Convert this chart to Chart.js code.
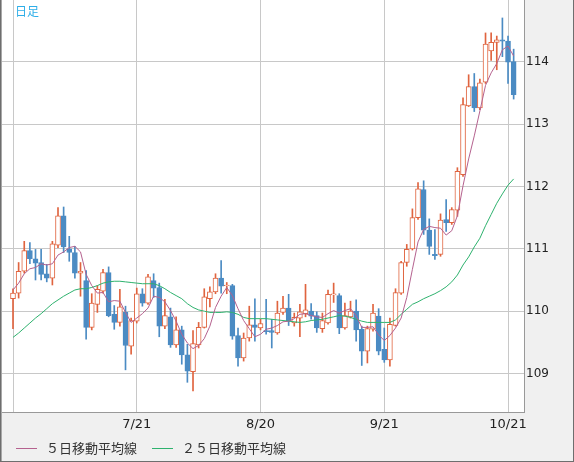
<!DOCTYPE html>
<html>
<head>
<meta charset="utf-8">
<script src="https://cdn.jsdelivr.net/npm/chart.js@4/dist/chart.umd.min.js"></script>
<style>
html,body{margin:0;padding:0;background:#f0f0f0;}
#c{display:block;}
</style>
</head>
<body>
<canvas id="c" width="574" height="462"></canvas>
<script>
// ---- data (USD/JPY daily, 6/21 .. 10/22) ----
const openP = [110.20,110.29,110.64,110.97,110.84,110.78,110.60,110.53,111.06,111.53,
111.00,110.94,110.61,110.49,109.74,110.11,110.32,110.62,109.95,109.82,
109.98,109.44,109.84,110.28,110.13,110.49,110.38,109.76,109.91,109.46,
109.70,109.30,109.03,109.46,109.74,110.20,110.31,110.53,110.41,110.41,
109.61,109.25,109.57,109.78,109.73,109.69,109.69,109.65,109.98,110.05,
109.81,109.89,109.96,110.00,109.93,109.72,109.81,110.26,110.25,109.73,
109.91,110.00,109.71,109.36,109.71,109.92,109.39,109.22,109.77,110.29,
110.78,111.00,111.50,111.95,111.30,110.91,110.91,111.47,111.42,111.62,
112.19,113.29,113.60,113.26,113.67,114.17,114.31,114.35,114.33,114.00];
const highP = [110.36,110.78,111.12,111.10,110.99,110.99,110.75,111.12,111.66,111.67,
111.20,111.04,110.78,110.65,110.28,110.41,110.67,110.71,110.09,110.35,
110.08,109.89,110.37,110.36,110.59,110.60,110.45,110.19,110.05,109.91,
109.76,109.47,109.69,109.82,110.36,110.39,110.60,110.81,110.46,110.43,
109.73,109.65,110.08,110.20,109.87,110.19,109.87,110.16,110.24,110.27,
109.97,110.11,110.43,110.12,109.99,109.97,110.34,110.45,110.28,110.13,
110.16,110.18,109.76,109.76,110.11,110.04,109.73,109.89,110.36,110.80,
111.07,111.64,112.06,112.09,111.48,111.31,111.56,111.79,111.66,112.30,
113.42,113.79,113.81,113.72,114.46,114.46,114.41,114.70,114.41,114.20];
const lowP = [109.72,110.21,110.61,110.76,110.50,110.50,110.47,110.42,111.02,110.94,
110.80,110.53,110.24,109.55,109.70,109.98,110.29,109.91,109.71,109.76,
109.06,109.31,109.81,110.08,110.11,110.22,109.59,109.72,109.42,109.42,
109.15,108.86,108.72,109.41,109.73,110.07,110.28,110.29,110.28,109.55,
109.12,109.20,109.52,109.52,109.70,109.63,109.41,109.63,109.95,109.77,
109.76,109.59,109.91,109.87,109.66,109.66,109.79,110.14,109.64,109.71,
109.89,109.52,109.13,109.17,109.68,109.30,109.18,109.12,109.76,110.27,
110.72,110.98,111.47,111.23,110.91,110.83,110.88,111.28,111.39,111.52,
112.16,113.28,113.20,113.23,113.65,114.02,113.87,114.08,113.65,113.40];
const closeP = [110.29,110.64,110.97,110.84,110.77,110.59,110.53,111.08,111.53,111.03,
110.94,110.61,110.64,109.74,110.13,110.35,110.62,109.93,109.82,110.07,
109.45,109.85,110.28,110.13,110.55,110.37,109.76,109.93,109.46,109.70,
109.30,109.04,109.48,109.74,110.23,110.31,110.53,110.40,110.42,109.60,
109.25,109.57,109.78,109.74,109.80,109.67,109.66,109.97,110.05,109.84,
109.90,109.99,110.02,109.92,109.73,109.85,110.27,110.28,109.73,109.93,
110.00,109.70,109.36,109.72,109.97,109.36,109.22,109.79,110.30,110.78,
110.99,111.50,111.96,111.30,111.04,110.89,111.46,111.42,111.63,112.24,
113.31,113.60,113.26,113.66,114.28,114.31,114.35,114.33,113.99,113.47];
const ma5 = [110.34,110.45,110.60,110.68,110.70,110.76,110.74,110.76,110.90,110.95,
111.02,111.04,110.95,110.59,110.41,110.29,110.30,110.15,110.17,110.16,
109.98,109.82,109.89,109.96,110.05,110.24,110.22,110.15,110.01,109.84,
109.63,109.49,109.40,109.45,109.56,109.76,110.06,110.24,110.38,110.25,
110.04,109.85,109.72,109.59,109.63,109.71,109.73,109.77,109.83,109.84,
109.88,109.95,109.96,109.93,109.91,109.90,109.96,110.01,109.97,110.01,
110.04,109.93,109.74,109.74,109.75,109.62,109.53,109.61,109.73,109.89,
110.22,110.67,111.11,111.31,111.36,111.34,111.33,111.22,111.29,111.53,
112.01,112.44,112.81,113.21,113.62,113.82,113.97,114.19,114.25,114.09];
const ma25 = [109.58,109.65,109.73,109.81,109.89,109.96,110.04,110.12,110.18,110.24,
110.29,110.34,110.36,110.36,110.38,110.41,110.45,110.47,110.48,110.48,
110.47,110.46,110.45,110.44,110.44,110.44,110.41,110.36,110.30,110.25,
110.20,110.12,110.06,110.02,110.00,109.98,109.98,109.98,109.99,109.98,
109.95,109.90,109.88,109.88,109.88,109.88,109.87,109.86,109.85,109.84,
109.83,109.82,109.83,109.85,109.86,109.87,109.89,109.91,109.93,109.92,
109.90,109.87,109.84,109.82,109.82,109.82,109.82,109.82,109.86,109.95,
110.03,110.11,110.15,110.20,110.24,110.28,110.33,110.39,110.47,110.58,
110.74,110.87,111.03,111.17,111.37,111.55,111.73,111.88,112.02,112.12];
const xTickIdx = [0, 22, 44, 66, 88];
const xTickLabels = ['', '7/21', '8/20', '9/21', '10/21'];
const yTicks = [109, 110, 111, 112, 113, 114];
const seriesLabels = ['５日移動平均線', '２５日移動平均線'];
const periodLabel = '日足';

// ---- styles ----
const RED = '#e0643f';
const BLUE = '#4b8bc3';
const C_MA5 = '#b5628f';
const C_MA25 = '#2eb26e';
const GRID = '#c8c8c8';

const isUp = i => closeP[i] >= openP[i];
const bodies = openP.map((o, i) => ({x: i, y: [Math.min(o, closeP[i]), Math.max(o, closeP[i])]}));
const wicks = lowP.map((l, i) => ({x: i, y: [l, highP[i]]}));

const deco = {
  id: 'deco',
  beforeDraw(chart) {
    const {ctx, chartArea: a, width, height} = chart;
    ctx.save();
    ctx.fillStyle = '#f0f0f0';
    ctx.fillRect(0, 0, width, height);
    ctx.fillStyle = '#ffffff';
    ctx.fillRect(a.left, a.top, a.right - a.left, a.bottom - a.top);
    ctx.restore();
  },
  afterDraw(chart) {
    const {ctx, width, height} = chart;
    ctx.save();
    // outer frame
    ctx.fillStyle = '#6e6e6e';
    ctx.fillRect(0, 0, 1, height);
    ctx.fillRect(width - 1, 0, 1, height);
    ctx.fillRect(0, height - 1, width, 1);
    ctx.fillStyle = '#a8a8a8';
    ctx.fillRect(1, 0, 1, height - 1);
    // period label
    ctx.font = '12px "Noto Sans CJK JP"';
    ctx.fillStyle = '#2eaee8';
    ctx.textBaseline = 'middle';
    ctx.textAlign = 'left';
    ctx.fillText(periodLabel, 15, 11);
    // legend
    const ly = 448.5;
    const items = [
      {x: 16, label: seriesLabels[0], color: C_MA5},
      {x: 152, label: seriesLabels[1], color: C_MA25}
    ];
    ctx.font = '13px "Noto Sans CJK JP"';
    items.forEach(it => {
      ctx.strokeStyle = it.color;
      ctx.lineWidth = 1;
      ctx.beginPath();
      ctx.moveTo(it.x, ly);
      ctx.lineTo(it.x + 21, ly);
      ctx.stroke();
      ctx.fillStyle = '#333333';
      ctx.fillText(it.label, it.x + 30, ly);
    });
    ctx.restore();
  }
};

new Chart(document.getElementById('c'), {
  type: 'bar',
  data: {
    datasets: [
      {type: 'line', label: seriesLabels[0], data: ma5.map((v, i) => ({x: i, y: v})),
       borderColor: C_MA5, borderWidth: 1, pointRadius: 0, tension: 0, order: 0},
      {type: 'line', label: seriesLabels[1], data: ma25.map((v, i) => ({x: i, y: v})),
       borderColor: C_MA25, borderWidth: 1, pointRadius: 0, tension: 0, order: 0},
      {type: 'bar', label: 'body', data: bodies, grouped: false, barThickness: 5,
       backgroundColor: c => isUp(c.dataIndex) ? '#ffffff' : BLUE,
       borderColor: c => isUp(c.dataIndex) ? RED : BLUE,
       borderWidth: 1, borderSkipped: false, order: 1},
      {type: 'bar', label: 'wick', data: wicks, grouped: false, barThickness: 1,
       backgroundColor: c => isUp(c.dataIndex) ? RED : BLUE,
       borderWidth: 0, order: 2}
    ]
  },
  options: {
    responsive: false,
    devicePixelRatio: 1,
    animation: false,
    layout: {padding: {left: 2, top: 0, right: 0, bottom: 0}},
    plugins: {legend: {display: false}, tooltip: {enabled: false}},
    scales: {
      x: {
        type: 'linear', min: -1.956, max: 90.84, offset: false,
        grid: {color: GRID, drawTicks: false, offset: false},
        border: {color: '#999999'},
        ticks: {
          padding: 5, autoSkip: false, maxRotation: 0, color: '#222222',
          font: {family: 'DejaVu Sans', size: 13},
          callback: v => { const k = xTickIdx.indexOf(v); return k >= 0 ? xTickLabels[k] : ''; }
        },
        afterBuildTicks: s => { s.ticks = xTickIdx.map(v => ({value: v})); },
        afterFit: s => { s.height = 50; s.paddingLeft = 0; s.paddingRight = 0; }
      },
      y: {
        position: 'right', min: 108.384, max: 114.988,
        grid: {color: GRID, drawTicks: false},
        border: {color: '#999999'},
        ticks: {padding: 2, color: '#222222', font: {family: 'DejaVu Sans', size: 12}},
        afterBuildTicks: s => { s.ticks = yTicks.map(v => ({value: v})); },
        afterFit: s => { s.width = 50; s.paddingTop = 0; s.paddingBottom = 0; }
      }
    }
  },
  plugins: [deco]
});
</script>
</body>
</html>
